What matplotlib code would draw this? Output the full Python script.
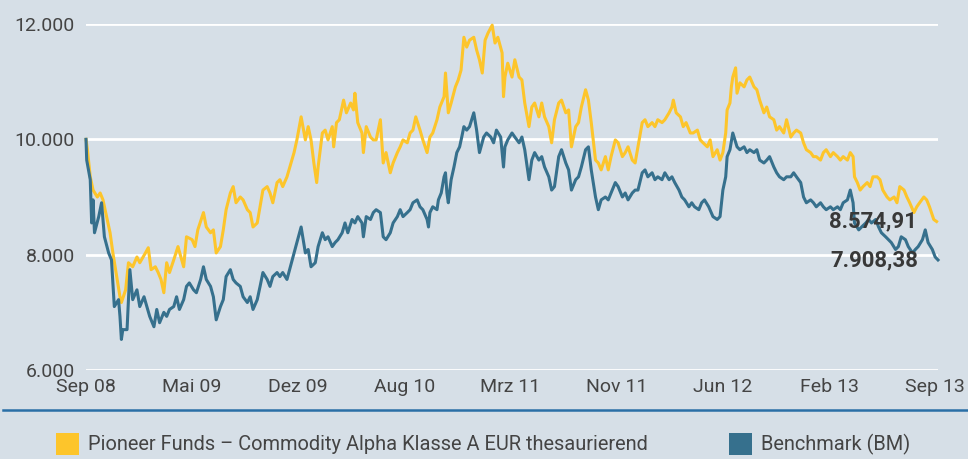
import matplotlib
matplotlib.use("Agg")
import matplotlib.pyplot as plt
from matplotlib.lines import Line2D
from matplotlib.patches import Rectangle

# months since Sep 2008 and index values
t_fund = [0.0, 0.1, 0.3, 0.5, 0.8, 1.0, 1.2, 1.5, 1.7, 1.9, 2.2, 2.4, 2.5, 2.8, 3.0, 3.3, 3.6, 3.8,
          4.2, 4.4, 4.6, 4.9, 5.1, 5.3, 5.5, 5.7, 5.9, 6.2, 6.5, 6.9, 7.1, 7.5, 7.7, 7.9, 8.3, 8.5,
          8.8, 9.0, 9.2, 9.5, 9.7, 9.9, 10.2, 10.4, 10.6, 10.9, 11.1, 11.4, 11.6, 11.8, 12.1, 12.3,
          12.5, 12.8, 13.0, 13.2, 13.5, 13.7, 13.9, 14.2, 14.7, 14.9, 15.2, 15.5, 15.7, 15.9, 16.1,
          16.3, 16.4, 16.7, 16.9, 17.1, 17.4, 17.5, 17.7, 17.9, 18.2, 18.4, 18.7, 18.9, 19.0, 19.2,
          19.5, 19.6, 19.8, 20.1, 20.3, 20.5, 20.8, 21.0, 21.2, 21.5, 21.7, 22.0, 22.2, 22.4, 22.7,
          22.9, 23.1, 23.3, 23.6, 23.8, 24.1, 24.3, 24.5, 24.8, 25.0, 25.3, 25.4, 25.6, 25.8, 26.1,
          26.3, 26.5, 26.7, 26.9, 27.1, 27.4, 27.6, 27.8, 28.0, 28.2, 28.4, 28.7, 28.9, 29.1, 29.4,
          29.5, 29.6, 29.8, 30.1, 30.3, 30.6, 30.8, 31.0, 31.3, 31.5, 31.7, 32.0, 32.2, 32.4, 32.7,
          32.9, 33.1, 33.4, 33.6, 33.9, 34.1, 34.3, 34.6, 34.8, 35.0, 35.3, 35.5, 35.7, 36.0, 36.2,
          36.4, 36.7, 36.9, 37.1, 37.4, 37.6, 37.9, 38.1, 38.3, 38.6, 38.8, 39.0, 39.3, 39.5, 39.7,
          40.0, 40.2, 40.4, 40.7, 40.9, 41.2, 41.4, 41.5, 41.7, 42.0, 42.2, 42.4, 42.7, 42.9, 43.2,
          43.4, 43.6, 43.9, 44.1, 44.3, 44.6, 44.8, 45.0, 45.2, 45.3, 45.5, 45.6, 45.7, 45.9, 46.0,
          46.2, 46.5, 46.7, 46.9, 47.2, 47.4, 47.6, 47.9, 48.1, 48.3, 48.6, 48.8, 49.0, 49.3, 49.5,
          49.8, 50.0, 50.2, 50.5, 50.7, 50.9, 51.2, 51.4, 51.6, 51.9, 52.1, 52.3, 52.6, 52.8, 53.1,
          53.3, 53.5, 53.8, 54.0, 54.2, 54.3, 54.5, 54.7, 54.9, 55.2, 55.4, 55.6, 55.9, 56.1, 56.3,
          56.6, 56.8, 57.1, 57.3, 57.5, 57.8, 58.0, 58.2, 58.5, 58.7, 58.9, 59.2, 59.4, 59.6, 59.9,
          60.1]
fund = [10000, 9820, 9350, 9120, 9000, 9070, 8950, 8610, 8380, 8030, 7570, 7270, 7170, 7390, 7860,
        7790, 7960, 7860, 8030, 8120, 7740, 7790, 7690, 7570, 7340, 7860, 7690, 7910, 8140, 7790,
        8310, 8260, 8140, 8430, 8730, 8480, 8380, 8430, 8030, 8140, 8430, 8780, 9070, 9180, 8900,
        9000, 8950, 8780, 8730, 8480, 8550, 8830, 9120, 9180, 9070, 8900, 9250, 9300, 9180, 9350,
        9770, 9990, 10390, 9990, 10220, 9990, 9590, 9250, 9520, 10110, 10160, 9990, 10220, 9870,
        10290, 10340, 10680, 10460, 10630, 10510, 10800, 10290, 10110, 9770, 10220, 10040, 9990,
        9990, 10340, 9590, 9770, 9420, 9590, 9770, 9870, 9990, 9940, 10110, 10160, 10390, 10160,
        9990, 9770, 10040, 10110, 10340, 10560, 10740, 11150, 10460, 10630, 10910, 11030, 11200,
        11770, 11600, 11720, 11770, 11550, 11380, 11150, 11720, 11840, 11980, 11670, 11770, 11500,
        10740, 11080, 11320, 11080, 11380, 11080, 11030, 10630, 10220, 10560, 10630, 10390, 10630,
        10390, 10220, 9940, 10340, 10630, 10680, 10460, 10510, 9870, 10220, 10290, 10560, 10860,
        10680, 10290, 9640, 9590, 9470, 9700, 9470, 9700, 9990, 9940, 9700, 9770, 9870, 9640, 9590,
        9870, 10290, 10340, 10220, 10290, 10220, 10340, 10290, 10340, 10460, 10560, 10680, 10460,
        10390, 10220, 10290, 10110, 10110, 10160, 9990, 9940, 9870, 9990, 9700, 9820, 9640, 9770,
        10110, 10510, 10630, 10910, 11080, 11240, 10800, 10980, 10910, 11030, 11080, 10910, 10860,
        10680, 10460, 10560, 10390, 10340, 10160, 10220, 10110, 10340, 10040, 10110, 10160, 10110,
        9940, 9820, 9770, 9700, 9700, 9640, 9770, 9820, 9700, 9770, 9700, 9640, 9700, 9640, 9770,
        9700, 9350, 9250, 9120, 9180, 9250, 9180, 9350, 9350, 9300, 9120, 9000, 8950, 9000, 8900,
        9180, 9120, 9000, 8900, 8730, 8830, 8900, 9000, 8950, 8830, 8610, 8574.91]

t_bm = [0.0, 0.05, 0.3, 0.4, 0.5, 0.6, 0.9, 1.1, 1.3, 1.6, 1.8, 2.0, 2.3, 2.4, 2.5, 2.6, 2.9, 3.1,
        3.3, 3.6, 3.8, 4.1, 4.3, 4.5, 4.8, 5.0, 5.2, 5.5, 5.7, 5.9, 6.2, 6.4, 6.6, 6.9, 7.1, 7.3,
        7.6, 7.8, 8.1, 8.3, 8.5, 8.8, 9.0, 9.2, 9.5, 9.7, 9.9, 10.2, 10.4, 10.6, 10.9, 11.1, 11.4,
        11.6, 11.8, 12.1, 12.3, 12.5, 12.8, 13.0, 13.2, 13.5, 13.7, 13.9, 14.2, 14.7, 14.9, 15.2,
        15.5, 15.7, 15.9, 16.2, 16.4, 16.7, 16.9, 17.1, 17.4, 17.6, 17.8, 18.1, 18.3, 18.5, 18.8,
        19.0, 19.2, 19.5, 19.6, 19.8, 20.1, 20.3, 20.5, 20.8, 21.0, 21.2, 21.5, 21.7, 22.0, 22.2,
        22.4, 22.7, 22.9, 23.1, 23.4, 23.6, 23.8, 24.1, 24.2, 24.3, 24.5, 24.8, 24.9, 25.1, 25.3,
        25.4, 25.5, 25.6, 25.8, 26.0, 26.2, 26.4, 26.55, 26.7, 26.9, 27.1, 27.4, 27.6, 27.8, 28.1,
        28.3, 28.6, 28.8, 29.0, 29.3, 29.5, 29.6, 29.8, 30.1, 30.3, 30.6, 30.8, 31.0, 31.3, 31.5,
        31.7, 32.0, 32.2, 32.4, 32.7, 32.9, 33.1, 33.4, 33.6, 33.9, 34.1, 34.3, 34.6, 34.8, 35.0,
        35.3, 35.5, 35.7, 36.0, 36.2, 36.4, 36.7, 36.9, 37.1, 37.4, 37.6, 37.9, 38.1, 38.3, 38.6,
        38.8, 39.0, 39.3, 39.5, 39.7, 40.0, 40.2, 40.4, 40.7, 40.9, 41.2, 41.4, 41.6, 41.9, 42.1,
        42.3, 42.6, 42.8, 43.0, 43.3, 43.5, 43.7, 44.0, 44.3, 44.6, 44.8, 45.0, 45.2, 45.3, 45.5,
        45.7, 46.0, 46.2, 46.5, 46.7, 46.9, 47.2, 47.4, 47.6, 47.9, 48.1, 48.3, 48.6, 48.8, 49.0,
        49.3, 49.5, 49.8, 50.0, 50.2, 50.5, 50.7, 50.9, 51.2, 51.4, 51.6, 51.9, 52.1, 52.3, 52.6,
        52.8, 53.1, 53.3, 53.5, 53.8, 54.0, 54.2, 54.3, 54.6, 54.8, 55.1, 55.3, 55.5, 55.8, 56.0,
        56.2, 56.5, 56.7, 56.9, 57.2, 57.4, 57.6, 57.9, 58.1, 58.4, 58.6, 58.8, 59.1, 59.3, 59.5,
        59.8, 60.0, 60.2]
bm = [10000, 9640, 9300, 8550, 8950, 8380, 8660, 8900, 8310, 8030, 7910, 7100, 7220, 6930, 6530,
      6700, 6700, 7740, 7220, 7390, 7100, 7270, 7100, 6930, 6750, 7050, 6820, 7000, 6930, 7050,
      7100, 7270, 7050, 7220, 7450, 7510, 7390, 7340, 7570, 7790, 7570, 7450, 7270, 6870, 7100,
      7220, 7620, 7740, 7570, 7510, 7450, 7270, 7170, 7270, 7050, 7220, 7450, 7690, 7570, 7450,
      7620, 7690, 7620, 7690, 7570, 8030, 8210, 8480, 8030, 8090, 7790, 7860, 8140, 8380, 8260,
      8310, 8140, 8210, 8260, 8380, 8550, 8380, 8610, 8550, 8660, 8550, 8310, 8660, 8610, 8730,
      8780, 8730, 8310, 8260, 8380, 8550, 8660, 8780, 8660, 8730, 8780, 8900, 8950, 8830, 8780,
      8610, 8480, 8730, 8830, 8780, 8950, 9070, 9350, 9420, 9070, 8900, 9300, 9520, 9770, 9870,
      10040, 10220, 10160, 10220, 10460, 10160, 9770, 10040, 10110, 10040, 9940, 10160, 10040,
      9520, 9870, 9990, 10110, 10040, 9940, 10040, 9820, 9300, 9640, 9770, 9640, 9700, 9520, 9350,
      9120, 9180, 9700, 9820, 9590, 9470, 9120, 9300, 9350, 9520, 9820, 9870, 9470, 9000, 8780,
      8950, 9000, 8950, 9070, 9250, 9180, 9000, 9070, 8950, 9070, 9120, 9120, 9420, 9470, 9350,
      9420, 9300, 9350, 9300, 9420, 9300, 9350, 9250, 9120, 9000, 8950, 8830, 8900, 8830, 8780,
      8900, 8950, 8830, 8660, 8610, 8660, 9120, 9350, 9700, 9820, 10110, 9870, 9820, 9870, 9770,
      9820, 9770, 9820, 9640, 9590, 9640, 9700, 9520, 9420, 9350, 9300, 9350, 9350, 9420, 9350,
      9250, 9000, 8900, 8950, 8900, 8830, 8900, 8830, 8780, 8830, 8780, 8830, 8780, 8900, 8950,
      9120, 8900, 8550, 8430, 8480, 8550, 8610, 8550, 8610, 8480, 8380, 8310, 8260, 8210, 8090,
      8140, 8310, 8260, 8140, 8030, 8090, 8140, 8260, 8430, 8210, 8090, 7960, 7908.38]

tick_pos = [0, 7.5, 15, 22.5, 30, 37.5, 45, 52.5, 60]
tick_labels = ["Sep 08", "Mai 09", "Dez 09", "Aug 10", "Mrz 11", "Nov 11", "Jun 12", "Feb 13", "Sep 13"]
y_ticks = [6000, 8000, 10000, 12000]
y_labels = ["6.000", "8.000", "10.000", "12.000"]
fund_name = "Pioneer Funds \u2013 Commodity Alpha Klasse A EUR thesaurierend"
bm_name = "Benchmark (BM)"
fund_end = "8.574,91"
bm_end = "7.908,38"

BG = "#d6dfe7"
YEL = "#fdc52b"
BLU = "#36708d"
TXT = "#444444"

plt.rcParams["font.family"] = ["Roboto", "DejaVu Sans"]

fig = plt.figure(figsize=(9.68, 4.59), dpi=100, facecolor=BG)
ax = fig.add_axes([86 / 968, 1 - 370 / 459, 852 / 968, 346 / 459])
ax.set_facecolor(BG)

for v in y_ticks:
    ax.axhline(v, color="white", lw=2, zorder=1)

ax.plot(t_fund, fund, color=YEL, lw=2.2, zorder=2, clip_on=False)
ax.plot(t_bm, bm, color=BLU, lw=2.2, zorder=3, clip_on=False)

ax.set_xlim(0, 60.2)
ax.set_ylim(6000, 12000)
ax.set_yticks(y_ticks)
ax.set_yticklabels(y_labels)
ax.set_xticks(tick_pos)
ax.set_xticklabels(tick_labels)
ax.tick_params(length=0, labelsize=14, colors=TXT)
ax.tick_params(axis="y", pad=8)
ax.tick_params(axis="x", pad=6)
for s in ax.spines.values():
    s.set_visible(False)

for lbl, t, v in [(fund_end, t_fund[-1], fund[-1]), (bm_end, t_bm[-1], bm[-1])]:
    ax.annotate(lbl, xy=(t, v), xytext=(-20, 0), textcoords="offset pixels",
                ha="right", va="center", fontsize=16, fontweight="bold", color="#383838", zorder=5)

# bottom rule
fig.add_artist(Line2D([3 / 968, 1], [1 - 410 / 459] * 2, color="#2a6fa6", lw=1.8))

# legend
fig.add_artist(Rectangle((56 / 968, 1 - 455 / 459), 23 / 968, 22 / 459, color=YEL, lw=0))
fig.text(88 / 968, 1 - 444 / 459, fund_name, fontsize=14.4, color=TXT, va="center")
fig.add_artist(Rectangle((729 / 968, 1 - 455 / 459), 23 / 968, 22 / 459, color=BLU, lw=0))
fig.text(761 / 968, 1 - 444 / 459, bm_name, fontsize=14.4, color=TXT, va="center")

fig.savefig("out.png", dpi=100, facecolor=BG)
